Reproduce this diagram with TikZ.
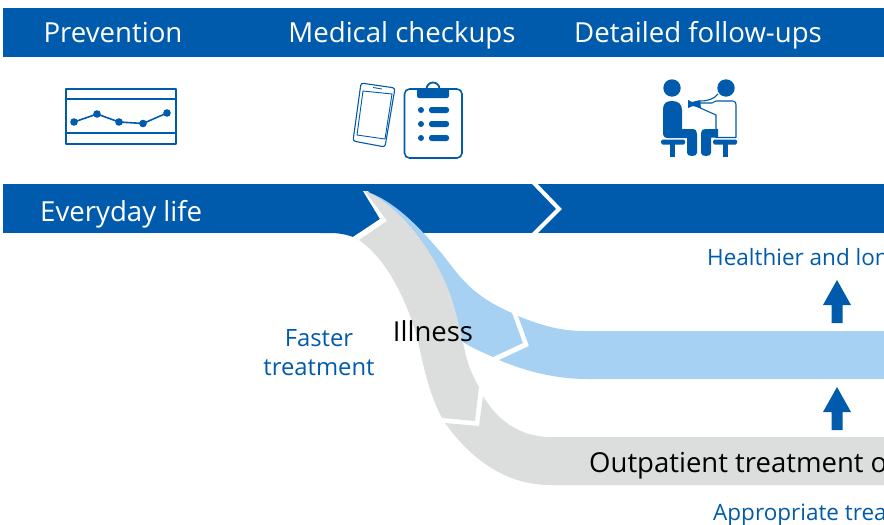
\documentclass[tikz,border=0pt]{standalone}
\usepackage{fontspec}
\setmainfont{Open Sans}
\definecolor{mainblue}{HTML}{005BAC}
\definecolor{lightblue}{HTML}{A6D1F2}
\definecolor{softgrey}{HTML}{DCDDDD}
\tikzset{
 heading/.style={text=white,font=\fontsize{27.6}{30}\selectfont,inner sep=0pt,anchor=base},
 bluetext/.style={text=mainblue,font=\fontsize{22.5}{28}\selectfont,inner sep=0pt,anchor=base,align=center},
 bluelarge/.style={text=mainblue,font=\fontsize{23.8}{28}\selectfont,inner sep=0pt,anchor=base,align=center},
 darktext/.style={text=black,font=\fontsize{27.5}{30}\selectfont,inner sep=0pt,anchor=base},
 iconline/.style={draw=mainblue,line width=1.3pt,line join=round},
 updart/.style={fill=mainblue,draw=none},
}
\begin{document}
\begin{tikzpicture}[x=1pt,y=-1pt]
\useasboundingbox (0,0) rectangle (884,525);
\clip (0,0) rectangle (884,525);
\fill[white] (0,0) rectangle (884,525);
% bands
\fill[mainblue] (3,8) rectangle (884,57);
\fill[mainblue] (3,184) rectangle (884,233);
\fill[mainblue] (320,233) -- (380,219) -- (353,237) .. controls (345,234) and (338,233) .. (330,233) -- cycle;
\draw[white,line width=4pt] (532,181) -- (559,209) -- (532,236);
\fill[white] (353,237) -- (380,219) -- (363,191) -- (368,191) -- (390,221) -- (359,242) -- cycle;
% curved flows
\fill[lightblue] (365,191) .. controls (395,201) and (420,228) .. (443,255)
  .. controls (458,274) and (470,295) .. (512,313) -- (523,343) -- (493,357)
  .. controls (482,352) and (472,348) .. (463,342) -- (440,300) -- (400,230) -- cycle;
\fill[softgrey] (365,191) .. controls (405,208) and (440,262) .. (452,300)
  .. controls (460,325) and (464,350) .. (468,363) .. controls (471,372) and (475,380) .. (479,387)
  -- (475,421) -- (442,418) .. controls (425,385) and (422,355) .. (415,330)
  .. controls (404,295) and (385,258) .. (359,240) -- (387,221) -- cycle;
\fill[lightblue] (518,316) .. controls (540,325) and (560,331) .. (584,331) -- (884,331) -- (884,379) -- (587,379)
  .. controls (555,379) and (525,371) .. (499,360) -- (529,346) -- cycle;
\fill[softgrey] (483,396) .. controls (497,420) and (520,437) .. (550,437) -- (884,437) -- (884,485) -- (550,485)
  .. controls (505,485) and (470,458) .. (445,423) -- (479,426) -- cycle;
% headings
\node[heading] (prev) at (113,42) {Prevention};
\node[heading] (med) at (402,42) {Medical checkups};
\node[heading] (fol) at (698,42) {Detailed follow-ups};
\node[heading,anchor=base west] (life) at (40,221) {Everyday life};
\node[bluelarge] (faster) at (319,346) {Faster};
\node[bluelarge] (treat) at (319,375) {treatment};
\node[darktext] (ill) at (433,341) {Illness};
\node[darktext,anchor=base west] (out) at (589,472.5) {Outpatient treatment o};
\node[bluetext,anchor=base west] (health) at (707,265) {Healthier and lon};
\node[bluetext,anchor=base west] (appr) at (713,520) {Appropriate trea};
% arrows
\fill[updart] (837,280) -- (851,305) -- (842.5,305) -- (842.5,323) -- (831.5,323) -- (831.5,305) -- (823,305) -- cycle;
\fill[updart] (837,387) -- (851,412) -- (842.5,412) -- (842.5,430) -- (831.5,430) -- (831.5,412) -- (823,412) -- cycle;
% icon 1
\draw[iconline] (66,89) rectangle (176,144);
\draw[iconline] (66,99) -- (176,99) (66,133) -- (176,133);
\draw[mainblue,line width=1.6pt] (74,122) -- (97,114) -- (119,122) -- (143,123.5) -- (167,113);
\foreach \p in {(74,122),(97,114),(119,122),(143,123.5),(167,113)} \fill[mainblue] \p circle (3.8);
% icon 2: phone
\draw[mainblue,line width=1.1pt,rounded corners=2.5pt] (361,83) -- (395,88) -- (385,147) -- (353,141) -- cycle;
\draw[mainblue,line width=.9pt] (363,91) -- (392,94) -- (385,139) -- (357,135) -- cycle;
\draw[mainblue,line width=.9pt] (373,87.5) -- (382,89);
% clipboard
\draw[iconline,line width=1.6pt,rounded corners=5pt] (404.5,89) rectangle (462,158);
\draw[mainblue,line width=1.8pt] (426.5,89) arc[start angle=180,end angle=360,radius=6.5];
\fill[mainblue,rounded corners=2pt] (417,88.5) -- (449,88.5) -- (449,98) -- (417,98) -- cycle;
\foreach \yy in {110,124,138}{
 \fill[mainblue] (421,\yy) circle (3);
 \fill[mainblue,rounded corners=2.5pt] (429,\yy-3) rectangle (449,\yy+3);
}
% icon 3: left person
\fill[mainblue] (672,88) circle (8.7);
\fill[mainblue] (663,109) .. controls (663,103) and (667,101) .. (672,101) .. controls (678,101) and (682,104) .. (682,110)
  -- (682,129) -- (692,129) .. controls (696,129) and (697,131) .. (697,134) -- (697,153) .. controls (697,157) and (687,157) .. (687,153)
  -- (687,138) -- (668,138) .. controls (664,138) and (663,136) .. (663,132) -- cycle;
\fill[mainblue,rounded corners=1.5pt] (661,139.5) rectangle (685,144.5);
\fill[mainblue] (670,143) rectangle (675,157);
% right person
\fill[mainblue] (726,88) circle (8.7);
\draw[mainblue,line width=1.1pt,line join=round,fill=white] (716,101) -- (733,101) .. controls (735.5,101) and (736,103) .. (736,105) -- (736,137.5) -- (716,137.5) -- (716,115) -- (698,107) -- (700,103) -- (712,103) -- cycle;
\draw[mainblue,line width=1.1pt] (700,101) .. controls (708,101) and (714,99) .. (718,94);
\fill[mainblue] (688,100) -- (692,102) -- (700,100) -- (701,108) -- (693,106) -- (688,108) -- cycle;
\fill[mainblue] (701,133) .. controls (701,130) and (703,129) .. (706,129) -- (718,129) -- (718,137.5) -- (711,137.5) -- (711,153) .. controls (711,157) and (701,157) .. (701,153) -- cycle;
\fill[mainblue,rounded corners=1.5pt] (713,139.5) rectangle (737,144.5);
\fill[mainblue] (723,143) rectangle (728,157);
\end{tikzpicture}
\end{document}
